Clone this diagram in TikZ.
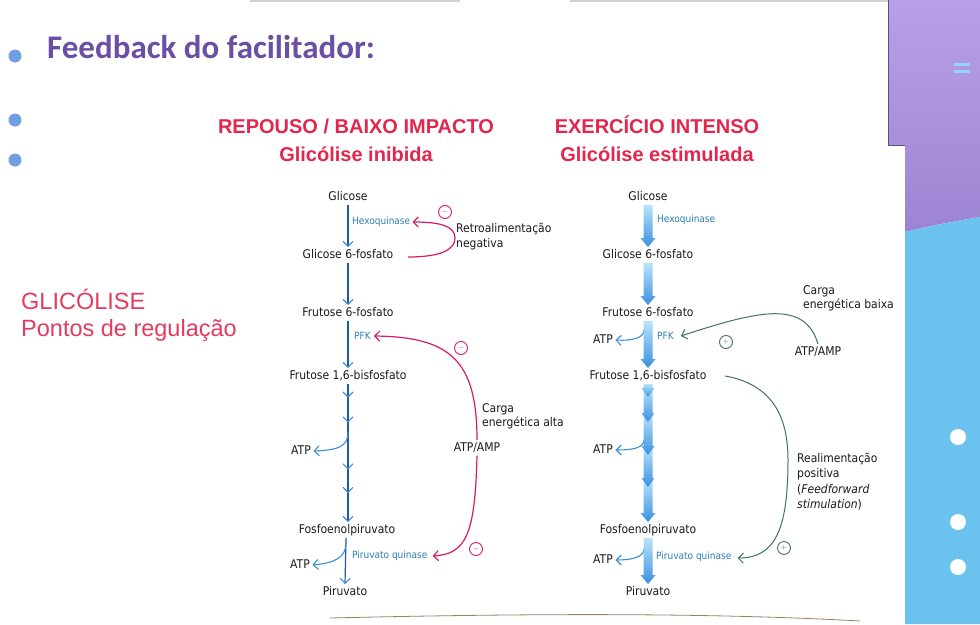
\documentclass[tikz,border=0pt]{standalone}
\usepackage{fontspec}
\setmainfont{Liberation Sans}
\newfontfamily\titlefont{Carlito}
\newfontfamily\dfont{DejaVu Sans Condensed}
\usetikzlibrary{arrows.meta,decorations.markings,calc}
\definecolor{txt}{HTML}{1A1A1A}
\definecolor{titlec}{HTML}{6B4FA5}
\definecolor{headred}{HTML}{E2264D}
\definecolor{leftred}{HTML}{E43B5E}
\definecolor{bul}{HTML}{6E9FE0}
\definecolor{purT}{HTML}{B8A0E8}
\definecolor{purB}{HTML}{9C84D2}
\definecolor{cyanP}{HTML}{6CC2EF}
\definecolor{eqc}{HTML}{8ED6F5}
\definecolor{flowD}{HTML}{1E5AA8}
\definecolor{flowL}{HTML}{3D8FD8}
\definecolor{enzc}{HTML}{2E7FB5}
\definecolor{mag}{HTML}{D81B6A}
\definecolor{grn}{HTML}{3F7560}
\definecolor{thkL}{HTML}{B8E4F9}
\definecolor{thkD}{HTML}{3A90E0}
% thick shaded arrow from point #2 down to point #3 (tip), head half-width #1
\newcommand{\ThickArr}[3][7.5]{%
  \shade[top color=thkL, bottom color=thkD]
    ($(#2)+(-4.5,0)$) -- ($(#2)+(4.5,0)$) --
    ($(#3)+(4.5,-9)$) -- ($(#3)+(#1,-9)$) -- ($(#3)+(0,0)$) --
    ($(#3)+(-#1,-9)$) -- ($(#3)+(-4.5,-9)$) -- cycle;}
\tikzset{
  met/.style={font=\dfont\fontsize{12}{14}\selectfont, text=txt, inner sep=2.5pt, text height=8.5pt, text depth=2pt},
  enz/.style={font=\dfont\fontsize{10}{12}\selectfont, text=enzc, inner sep=0pt, anchor=west},
  lab/.style={font=\dfont\fontsize{12}{14.5}\selectfont, text=txt, align=left, anchor=north west, inner sep=0pt},
  mybarb/.tip={Straight Barb[length=5pt,width=10pt,line width=1.1pt,color=flowL]},
  flow/.style={draw=flowD, line width=1.2pt, -mybarb},
  branch/.style={draw=flowL, line width=1.1pt, -mybarb},
  negfb/.style={draw=mag, line width=1.2pt, -{Straight Barb[length=5pt,width=10pt,line width=1.2pt]}},
  posfb/.style={draw=grn, line width=1pt, -{Straight Barb[length=5pt,width=10pt,line width=1pt]}},
  sign/.style={circle, draw=#1, line width=0.9pt, minimum size=13pt, inner sep=0pt, font=\fontsize{7}{7}\selectfont, text=#1},
  head/.style={font=\bfseries\fontsize{20}{22}\selectfont, text=headred, anchor=base},
}
\begin{document}
\begin{tikzpicture}[x=1pt,y=-1pt]
\useasboundingbox (0,0) rectangle (980,624);
\fill[white] (0,0) rectangle (980,624);
% page decorations
\draw[gray!35, line width=1.5pt] (250,1) -- (460,1) (570,1) -- (888,1);
\draw[brown!50!gray, line width=0.8pt] (330,618) .. controls (500,614) and (700,612) .. (860,621);
\shade[top color=purT, bottom color=purB] (888,0) -- (980,0) -- (980,217) .. controls (950,222) and (925,227) .. (905,232) -- (905,145) -- (888,145) -- cycle;
\fill[cyanP] (905,232) .. controls (925,227) and (950,222) .. (980,217) -- (980,624) -- (905,624) -- cycle;
\draw[purB!60!black, line width=0.7pt] (888,0) -- (888,145) -- (905,145);
\fill[eqc] (954,63) rectangle (970,66);
\fill[eqc] (954,70) rectangle (970,73);
\fill[white] (958,437) circle[radius=8pt];
\fill[white] (958,522) circle[radius=8pt];
\fill[white] (958,567) circle[radius=8pt];
\fill[bul] (15,56) circle[radius=6.5pt];
\fill[bul] (15,120) circle[radius=6.5pt];
\fill[bul] (15,160) circle[radius=6.5pt];
% titles
\node[anchor=base west, inner sep=0pt, font=\titlefont\bfseries\fontsize{33}{35}\selectfont, text=titlec] (title) at (47,58) {Feedback do facilitador:};
\node[head] (h1) at (356,133) {REPOUSO / BAIXO IMPACTO};
\node[head] (h2) at (356,161) {Glicólise inibida};
\node[head] (h3) at (657,133) {EXERCÍCIO INTENSO};
\node[head] (h4) at (657,161) {Glicólise estimulada};
\node[anchor=base west, inner sep=0pt, font=\fontsize{23.5}{25}\selectfont, text=leftred] (gl) at (21,309) {GLICÓLISE};
\node[anchor=base west, inner sep=0pt, font=\fontsize{23.5}{25}\selectfont, text=leftred] (pr) at (21,336) {Pontos de regulação};
% ---------- left pathway ----------
\node[met] (gl1) at (348,197) {Glicose};
\node[met] (g6p1) at (348,255) {Glicose 6-fosfato};
\node[met] (f6p1) at (348,313) {Frutose 6-fosfato};
\node[met] (fbp1) at (348,376) {Frutose 1,6-bisfosfato};
\node[met] (pep1) at (347,530) {Fosfoenolpiruvato};
\node[met] (pyr1) at (345,592) {Piruvato};
\node[enz] (hex1) at (352,222) {Hexoquinase};
\node[enz] (pfk1) at (354,336) {PFK};
\node[enz] (pk1) at (352,556) {Piruvato quinase};
\node[met] (atp1) at (301,451) {ATP};
\node[met] (atp2) at (300,565) {ATP};
\draw[flow] (gl1.south) -- (gl1.south |- g6p1.north);
\draw[flow] (g6p1.south) -- (g6p1.south |- f6p1.north);
\draw[flow] (f6p1.south) -- (f6p1.south |- fbp1.north);
\draw[flow, postaction={decorate}, decoration={markings,
   mark=at position 0.1 with {\arrow{mybarb}},
   mark=at position 0.28 with {\arrow{mybarb}},
   mark=at position 0.62 with {\arrow{mybarb}},
   mark=at position 0.79 with {\arrow{mybarb}}}]
   (fbp1.south) -- (fbp1.south |- pep1.north);
\coordinate (b1) at (348,432);
\draw[branch] (b1) .. controls (348,447) and (338,450) .. (atp1.east);
\draw[flow] ($(pep1.south)+(-1,0)$) -- (pyr1.north);
\coordinate (b2) at (346,543);
\draw[branch] (b2) .. controls (346,558) and (334,563) .. (atp2.east);
% negative feedback
\draw[negfb] ($(g6p1.east)+(12,2)$) .. controls (440,257) and (455,250) .. (455,238) .. controls (455,226) and (440,222) .. ($(hex1.east)+(2,0)$);
\node[sign=mag] (m1) at (445,212) {$-$};
\node[lab] (ret) at (456,223) {Retroalimentação\\negativa};
\node[met] (aa1) at (477,448) {ATP/AMP};
\draw[negfb] (aa1.north) .. controls (477,360) and (450,337) .. ($(pfk1.east)+(3,0)$);
\draw[negfb] (aa1.south) .. controls (475,535) and (466,554) .. ($(pk1.east)+(5,0)$);
\node[sign=mag] (m2) at (461,348) {$-$};
\node[sign=mag] (m3) at (476,549) {$-$};
\node[lab] (ca1) at (482,403) {Carga\\energética alta};
% ---------- right pathway ----------
\node[met] (gl2) at (648,197) {Glicose};
\node[met] (g6p2) at (648,255) {Glicose 6-fosfato};
\node[met] (f6p2) at (648,313) {Frutose 6-fosfato};
\node[met] (fbp2) at (648,376) {Frutose 1,6-bisfosfato};
\node[met] (pep2) at (648,530) {Fosfoenolpiruvato};
\node[met] (pyr2) at (648,592) {Piruvato};
\node[enz] (hex2) at (657,220) {Hexoquinase};
\node[enz] (pfk2) at (657,336) {PFK};
\node[enz] (pk2) at (656,557) {Piruvato quinase};
\node[met] (atp3) at (603,340) {ATP};
\node[met] (atp4) at (603,450) {ATP};
\node[met] (atp5) at (603,560) {ATP};
\coordinate (b3) at (644,330);
\coordinate (b4) at (644,440);
\coordinate (b5) at (644,549);
\draw[branch] (b3) .. controls (644,338) and (632,341) .. (atp3.east);
\draw[branch] (b4) .. controls (644,448) and (632,450) .. (atp4.east);
\draw[branch] (b5) .. controls (644,557) and (632,560) .. (atp5.east);
\ThickArr{gl2.south}{gl2.south |- g6p2.north}
\ThickArr{g6p2.south}{g6p2.south |- f6p2.north}
\ThickArr{f6p2.south}{f6p2.south |- fbp2.north}
% long segmented arrow (drawn bottom-up so each head lies over the next shaft)
\coordinate (s1) at (648,397);
\coordinate (s2) at (648,422);
\coordinate (s3) at (648,455);
\coordinate (s4) at (648,487);
\coordinate (u1) at (648,389);
\coordinate (u2) at (648,414);
\coordinate (u3) at (648,447);
\coordinate (u4) at (648,479);
\ThickArr{u4}{fbp2.south |- pep2.north}
\ThickArr[6.5]{u3}{s4}
\ThickArr[6.5]{u2}{s3}
\ThickArr[6.5]{u1}{s2}
\ThickArr[6.5]{fbp2.south}{s1}
\ThickArr{pep2.south}{pep2.south |- pyr2.north}
% positive feedback
\node[met] (aa2) at (818,352) {ATP/AMP};
\draw[posfb] (aa2.north) .. controls (805,300) and (760,310) .. ($(pfk2.east)+(7,0)$);
\node[sign=grn] (p1) at (726,342) {$+$};
\node[lab] (cb) at (803,285) {Carga\\energética baixa};
\draw[posfb] ($(fbp2.east)+(16,0)$) .. controls (775,385) and (788,420) .. (788,460) .. controls (788,530) and (775,558) .. ($(pk2.east)+(6,1)$);
\node[sign=grn] (p2) at (784,548) {$+$};
\node[lab, font=\dfont\fontsize{12}{15.3}\selectfont] (rp) at (797,453) {Realimentação\\positiva\\(\textit{Feedforward}\\\textit{stimulation})};
\end{tikzpicture}
\end{document}
